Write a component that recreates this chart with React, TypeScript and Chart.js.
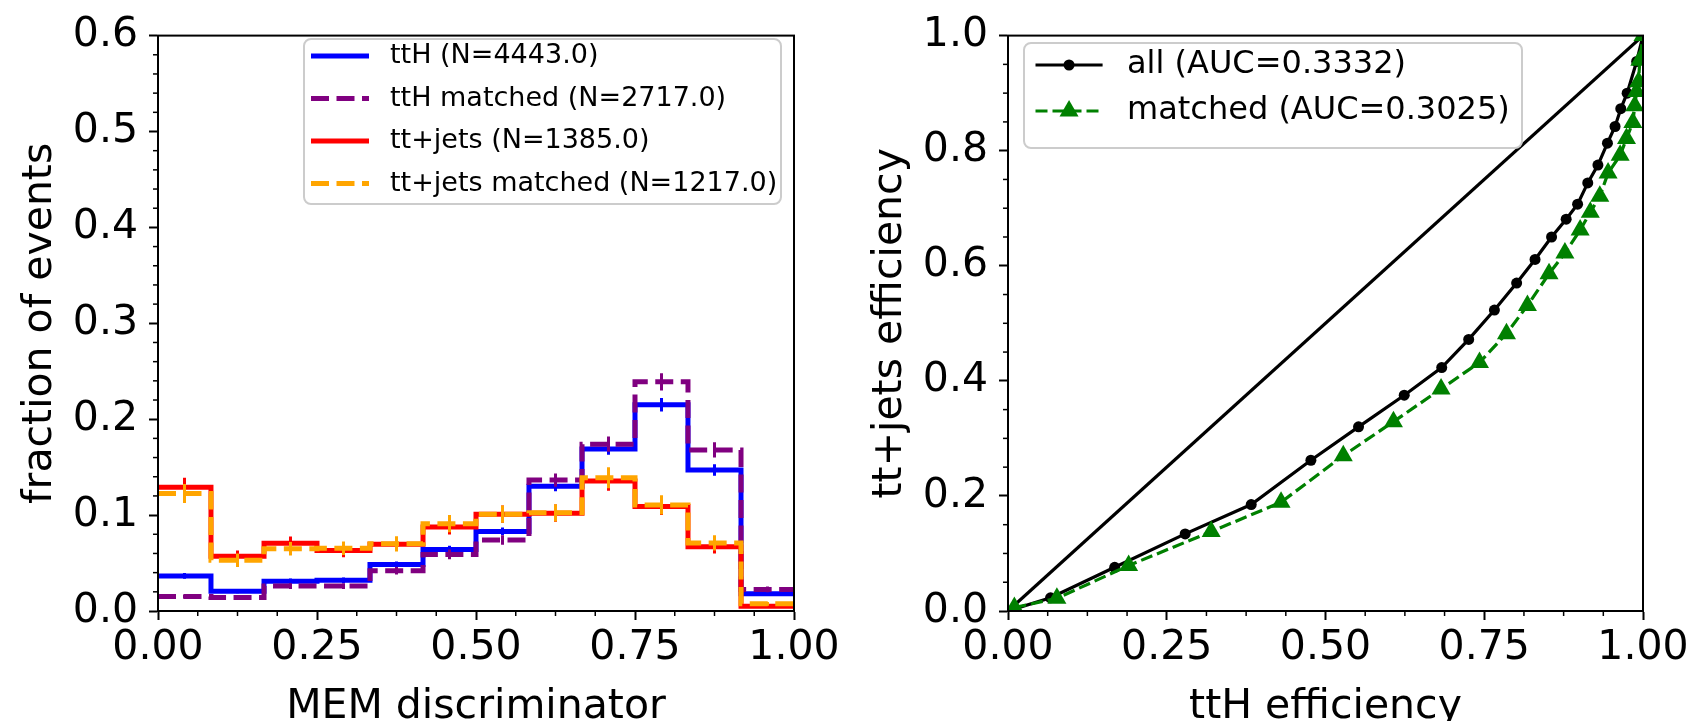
import React, { useEffect, useRef } from "react";
import { Chart, registerables } from "chart.js";

Chart.register(...registerables);

// ---------------- data: histogram (left) ----------------
const BIN_EDGES = [0, 0.0833, 0.1667, 0.25, 0.3333, 0.4167, 0.5, 0.5833, 0.6667, 0.75, 0.8333, 0.9167, 1.0];
const BIN_CENTERS = [0.0417, 0.125, 0.2083, 0.2917, 0.375, 0.4583, 0.5417, 0.625, 0.7083, 0.7917, 0.875, 0.9583];

const TTH = [0.0365, 0.0205, 0.031, 0.032, 0.0485, 0.064, 0.083, 0.130, 0.169, 0.215, 0.147, 0.018];
const TTH_ERR = [0.003, 0.002, 0.003, 0.003, 0.003, 0.004, 0.004, 0.005, 0.006, 0.007, 0.006, 0.002];
const TTH_MATCHED = [0.015, 0.014, 0.026, 0.026, 0.042, 0.059, 0.074, 0.1365, 0.174, 0.239, 0.168, 0.0225];
const TTH_MATCHED_ERR = [0.002, 0.002, 0.003, 0.003, 0.004, 0.005, 0.005, 0.007, 0.008, 0.009, 0.008, 0.003];
const TTJETS = [0.129, 0.057, 0.0707, 0.063, 0.0696, 0.0877, 0.101, 0.102, 0.1355, 0.109, 0.067, 0.005];
const TTJETS_ERR = [0.010, 0.006, 0.007, 0.007, 0.007, 0.008, 0.009, 0.009, 0.010, 0.009, 0.007, 0.002];
const TTJETS_MATCHED = [0.1225, 0.053, 0.065, 0.0655, 0.070, 0.091, 0.101, 0.1024, 0.139, 0.1106, 0.071, 0.0075];
const TTJETS_MATCHED_ERR = [0.010, 0.007, 0.007, 0.007, 0.008, 0.009, 0.009, 0.009, 0.011, 0.010, 0.008, 0.002];

const HIST_LABELS = [
  "ttH (N=4443.0)",
  "ttH matched (N=2717.0)",
  "tt+jets (N=1385.0)",
  "tt+jets matched (N=1217.0)",
];

// ---------------- data: ROC (right) ----------------
const ALL_X = [0, 0.067, 0.168, 0.279, 0.383, 0.477, 0.552, 0.624, 0.683, 0.7255, 0.766, 0.801, 0.830, 0.856, 0.879, 0.897, 0.913, 0.929, 0.944, 0.956, 0.965, 0.975, 0.99, 1.0];
const ALL_Y = [0, 0.023, 0.076, 0.134, 0.185, 0.262, 0.320, 0.375, 0.423, 0.472, 0.523, 0.570, 0.611, 0.650, 0.681, 0.707, 0.744, 0.775, 0.813, 0.842, 0.873, 0.900, 0.955, 1.0];
const MATCHED_X = [0.01, 0.077, 0.19, 0.32, 0.43, 0.528, 0.607, 0.682, 0.7425, 0.785, 0.818, 0.852, 0.877, 0.901, 0.917, 0.932, 0.945, 0.964, 0.974, 0.984, 0.987, 0.990, 0.993, 0.995, 1.0];
const MATCHED_Y = [0.006, 0.022, 0.079, 0.138, 0.189, 0.270, 0.329, 0.386, 0.432, 0.482, 0.531, 0.586, 0.622, 0.662, 0.693, 0.721, 0.761, 0.792, 0.821, 0.849, 0.878, 0.903, 0.920, 0.957, 1.0];
const DIAG_X = [0, 1];
const DIAG_Y = [0, 1];
const ROC_LABELS = ["all (AUC=0.3332)", "matched (AUC=0.3025)"];

// ---------------- ticks ----------------
const X_TICKS = [0, 0.25, 0.5, 0.75, 1.0];
const HIST_Y_TICKS = [0, 0.1, 0.2, 0.3, 0.4, 0.5, 0.6];
const ROC_Y_TICKS = [0, 0.2, 0.4, 0.6, 0.8, 1.0];

const FONT = "DejaVu Sans";
const TICK_FONT = 41;

function minorsOf(majors: number[], sub: number): number[] {
  const out: number[] = [];
  for (let i = 0; i < majors.length - 1; i++) {
    const a = majors[i], b = majors[i + 1];
    for (let k = 1; k < sub; k++) out.push(a + ((b - a) * k) / sub);
  }
  return out;
}

function stepPoints(values: number[]) {
  return BIN_EDGES.map((e, i) => ({ x: e, y: values[Math.min(i, values.length - 1)] }));
}

function errPoints(values: number[], errs: number[]) {
  const pts: { x: number; y: number | null }[] = [];
  values.forEach((v, i) => {
    pts.push({ x: BIN_CENTERS[i], y: v - errs[i] });
    pts.push({ x: BIN_CENTERS[i], y: v + errs[i] });
    pts.push({ x: BIN_CENTERS[i], y: null });
  });
  return pts;
}

function xy(xs: number[], ys: number[]) {
  return xs.map((x, i) => ({ x, y: ys[i] }));
}

const framePlugin = {
  id: "frameMinor",
  afterDraw(chart: any, _a: any, o: any) {
    const { ctx, chartArea: a, scales } = chart;
    ctx.save();
    ctx.strokeStyle = "#000";
    ctx.lineWidth = 1.5;
    (o.xMinor || []).forEach((v: number) => {
      const px = scales.x.getPixelForValue(v);
      ctx.beginPath();
      ctx.moveTo(px, a.bottom);
      ctx.lineTo(px, a.bottom + 5);
      ctx.stroke();
    });
    (o.yMinor || []).forEach((v: number) => {
      const py = scales.y.getPixelForValue(v);
      ctx.beginPath();
      ctx.moveTo(a.left, py);
      ctx.lineTo(a.left - 5, py);
      ctx.stroke();
    });
    ctx.lineWidth = 2;
    ctx.strokeRect(a.left, a.top, a.right - a.left, a.bottom - a.top);
    ctx.restore();
  },
};

function roundRect(ctx: CanvasRenderingContext2D, x: number, y: number, w: number, h: number, r: number) {
  ctx.beginPath();
  ctx.moveTo(x + r, y);
  ctx.lineTo(x + w - r, y);
  ctx.arcTo(x + w, y, x + w, y + r, r);
  ctx.lineTo(x + w, y + h - r);
  ctx.arcTo(x + w, y + h, x + w - r, y + h, r);
  ctx.lineTo(x + r, y + h);
  ctx.arcTo(x, y + h, x, y + h - r, r);
  ctx.lineTo(x, y + r);
  ctx.arcTo(x, y, x + r, y, r);
  ctx.closePath();
}

const legendPlugin = {
  id: "boxLegend",
  afterDraw(chart: any, _a: any, o: any) {
    const { ctx } = chart;
    const items = chart.data.datasets.filter((d: any) => d.inLegend);
    ctx.save();
    roundRect(ctx, o.x, o.y, o.w, o.h, 7);
    ctx.fillStyle = "rgba(255,255,255,0.8)";
    ctx.fill();
    ctx.strokeStyle = "#cccccc";
    ctx.lineWidth = 2;
    ctx.stroke();
    items.forEach((d: any, i: number) => {
      const y = o.y + o.firstRow + i * o.rowGap;
      const x0 = o.x + o.lineStart;
      const x1 = o.x + o.lineEnd;
      ctx.setLineDash(d.borderDash || []);
      ctx.strokeStyle = d.borderColor;
      ctx.lineWidth = d.borderWidth;
      ctx.beginPath();
      ctx.moveTo(x0, y);
      ctx.lineTo(x1, y);
      ctx.stroke();
      ctx.setLineDash([]);
      const cx = (x0 + x1) / 2;
      if (d.pointRadius > 0) {
        ctx.fillStyle = d.pointBackgroundColor;
        const r = d.pointRadius;
        ctx.beginPath();
        if (d.pointStyle === "triangle") {
          ctx.moveTo(cx, y - r);
          ctx.lineTo(cx + r * Math.sin((2 * Math.PI) / 3), y - r * Math.cos((2 * Math.PI) / 3));
          ctx.lineTo(cx + r * Math.sin((4 * Math.PI) / 3), y - r * Math.cos((4 * Math.PI) / 3));
          ctx.closePath();
        } else {
          ctx.arc(cx, y, r, 0, Math.PI * 2);
        }
        ctx.fill();
      }
      ctx.fillStyle = "#000";
      ctx.font = `${o.fontSize}px '${FONT}'`;
      ctx.textBaseline = "middle";
      ctx.textAlign = "left";
      ctx.fillText(d.label, o.x + o.textStart, y);
    });
    ctx.restore();
  },
};

function axisX(title: string) {
  return {
    type: "linear" as const,
    min: 0,
    max: 1,
    afterBuildTicks: (s: any) => {
      s.ticks = X_TICKS.map((v) => ({ value: v }));
    },
    afterFit: (s: any) => {
      s.height = 129;
    },
    ticks: {
      callback: (v: any) => Number(v).toFixed(2),
      font: { family: FONT, size: TICK_FONT },
      color: "#000",
      padding: 4,
      maxRotation: 0,
      minRotation: 0,
      autoSkip: false,
    },
    grid: { display: true, drawOnChartArea: false, drawTicks: true, tickLength: 9, tickWidth: 2, tickColor: "#000" },
    border: { display: true, color: "#000", width: 2 },
    title: { display: true, text: title, font: { family: FONT, size: TICK_FONT }, color: "#000", padding: { top: 0, bottom: 8 } },
  };
}

function axisY(title: string, max: number, ticks: number[]) {
  return {
    type: "linear" as const,
    min: 0,
    max,
    afterBuildTicks: (s: any) => {
      s.ticks = ticks.map((v) => ({ value: v }));
    },
    afterFit: (s: any) => {
      s.width = 158;
    },
    ticks: {
      callback: (v: any) => Number(v).toFixed(1),
      font: { family: FONT, size: TICK_FONT },
      color: "#000",
      padding: 11,
      autoSkip: false,
    },
    grid: { display: true, drawOnChartArea: false, drawTicks: true, tickLength: 9, tickWidth: 2, tickColor: "#000" },
    border: { display: true, color: "#000", width: 2 },
    title: { display: true, text: title, font: { family: FONT, size: TICK_FONT }, color: "#000", padding: { top: 16, bottom: 0 } },
  };
}

function histConfig(): any {
  const series = [
    { v: TTH, e: TTH_ERR, color: "#0000ff", dash: [] as number[], order: 4 },
    { v: TTH_MATCHED, e: TTH_MATCHED_ERR, color: "#800080", dash: [18, 7.5], order: 3 },
    { v: TTJETS, e: TTJETS_ERR, color: "#ff0000", dash: [] as number[], order: 2 },
    { v: TTJETS_MATCHED, e: TTJETS_MATCHED_ERR, color: "#ffa500", dash: [18, 7.5], order: 1 },
  ];
  const datasets: any[] = [];
  series.forEach((s, i) => {
    datasets.push({
      label: HIST_LABELS[i],
      inLegend: true,
      data: stepPoints(s.v),
      borderColor: s.color,
      borderWidth: 5,
      borderDash: s.dash,
      stepped: true,
      pointRadius: 0,
      fill: false,
      order: s.order + 0.5,
    });
    datasets.push({
      label: HIST_LABELS[i] + " err",
      data: errPoints(s.v, s.e),
      borderColor: s.color,
      borderWidth: 3,
      pointRadius: 0,
      spanGaps: false,
      fill: false,
      order: s.order,
    });
  });
  return {
    type: "line",
    data: { datasets },
    options: {
      responsive: false,
      maintainAspectRatio: false,
      animation: false,
      devicePixelRatio: 1,
      layout: { padding: { left: 0, top: 25, right: 56, bottom: 0 }, autoPadding: false },
      scales: {
        x: axisX("MEM discriminator"),
        y: axisY("fraction of events", 0.6, HIST_Y_TICKS),
      },
      plugins: {
        legend: { display: false },
        tooltip: { enabled: false },
        frameMinor: { xMinor: minorsOf(X_TICKS, 4), yMinor: minorsOf(HIST_Y_TICKS, 5) },
        boxLegend: { x: 304, y: 39, w: 477, h: 165, lineStart: 7, lineEnd: 65, textStart: 86, firstRow: 17, rowGap: 42.5, fontSize: 27 },
      },
    },
    plugins: [framePlugin, legendPlugin],
  };
}

function rocConfig(): any {
  return {
    type: "line",
    data: {
      datasets: [
        {
          label: ROC_LABELS[0],
          inLegend: true,
          data: xy(ALL_X, ALL_Y),
          borderColor: "#000000",
          borderWidth: 3.2,
          pointRadius: 5.5,
          pointStyle: "circle",
          pointBackgroundColor: "#000000",
          pointBorderWidth: 0,
          fill: false,
          order: 2,
        },
        {
          label: ROC_LABELS[1],
          inLegend: true,
          data: xy(MATCHED_X, MATCHED_Y),
          borderColor: "#008000",
          borderWidth: 3.2,
          borderDash: [12, 5],
          pointRadius: 11,
          pointStyle: "triangle",
          pointBackgroundColor: "#008000",
          pointBorderColor: "#008000",
          pointBorderWidth: 0,
          fill: false,
          order: 1,
        },
        {
          label: "diagonal",
          data: xy(DIAG_X, DIAG_Y),
          borderColor: "#000000",
          borderWidth: 3.2,
          pointRadius: 0,
          fill: false,
          order: 3,
        },
      ],
    },
    options: {
      responsive: false,
      maintainAspectRatio: false,
      animation: false,
      devicePixelRatio: 1,
      layout: { padding: { left: 0, top: 25, right: 55, bottom: 0 }, autoPadding: false },
      scales: {
        x: axisX("ttH efficiency"),
        y: axisY("tt+jets efficiency", 1.0, ROC_Y_TICKS),
      },
      plugins: {
        legend: { display: false },
        tooltip: { enabled: false },
        frameMinor: { xMinor: minorsOf(X_TICKS, 4), yMinor: minorsOf(ROC_Y_TICKS, 4) },
        boxLegend: { x: 174, y: 43, w: 498, h: 105, lineStart: 11.5, lineEnd: 78.6, textStart: 103, firstRow: 22, rowGap: 46, fontSize: 32 },
      },
    },
    plugins: [framePlugin, legendPlugin],
  };
}

function ChartCanvas({ make, width, height }: { make: () => any; width: number; height: number }) {
  const ref = useRef<HTMLCanvasElement | null>(null);
  useEffect(() => {
    if (!ref.current) return;
    const chart = new Chart(ref.current, make());
    return () => chart.destroy();
  }, [make]);
  return <canvas ref={ref} width={width} height={height} style={{ display: "block", width, height }} />;
}

export default function App() {
  Chart.defaults.font.family = FONT;
  return (
    <div style={{ position: "fixed", left: 0, top: 0, width: 1698, height: 721, overflow: "hidden", background: "#fff" }}>
      <div style={{ position: "absolute", left: 0, top: 0, width: 850, height: 740 }}>
        <ChartCanvas make={histConfig} width={850} height={740} />
      </div>
      <div style={{ position: "absolute", left: 850, top: 0, width: 848, height: 740 }}>
        <ChartCanvas make={rocConfig} width={848} height={740} />
      </div>
    </div>
  );
}
